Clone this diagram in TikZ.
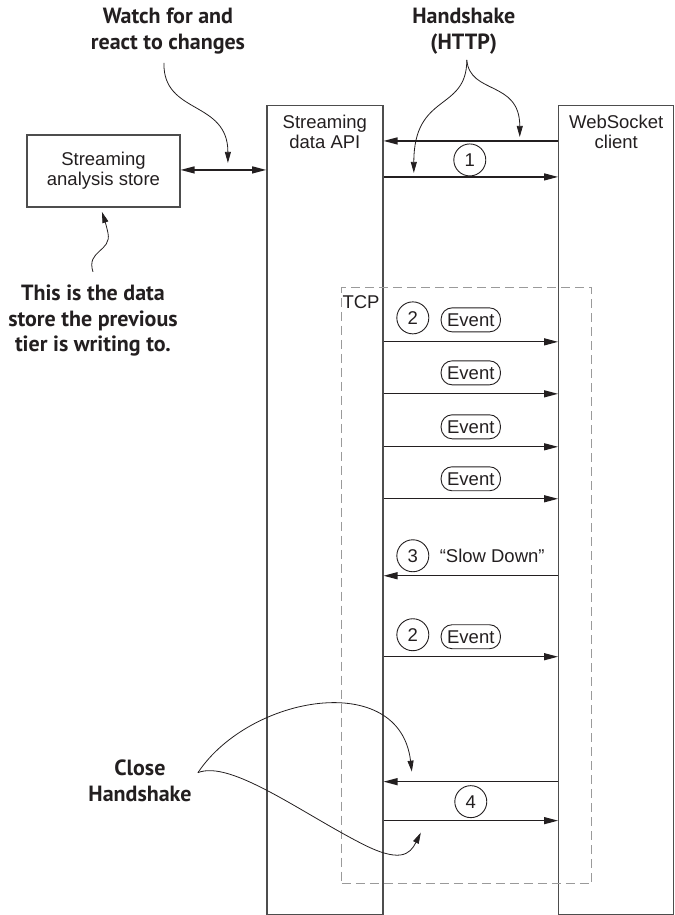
\documentclass[tikz,border=0pt]{standalone}
\usepackage{fontspec}
\setmainfont{Liberation Sans}
\newfontfamily\notefont{PT Sans}
\usetikzlibrary{arrows.meta, positioning}

\definecolor{ink}{HTML}{231F20}
\definecolor{linegray}{HTML}{4D4D4D}
\definecolor{dashgray}{HTML}{9A9A9A}

\begin{document}
\begin{tikzpicture}[
        x=1pt, y=-1pt,
        >={Triangle[length=14pt, width=7pt]},
        every node/.style={font=\fontsize{18.5}{20}\selectfont, text=ink},
        column/.style={draw=linegray, line width=1.4pt, rectangle, minimum width=116pt, minimum height=809pt, anchor=north, inner sep=0pt},
        box/.style={draw=linegray, line width=1.3pt, rectangle, minimum width=153pt, minimum height=72pt, align=center},
        lbl/.style={align=center},
        num/.style={draw=ink, circle, line width=0.9pt, minimum size=32pt, inner sep=0pt},
        evt/.style={draw=ink, rectangle, rounded corners=11pt, line width=0.9pt, minimum height=24pt, inner xsep=6pt, inner ysep=0pt},
        tcpbox/.style={draw=dashgray, line width=1.1pt, dash pattern=on 9pt off 5pt, rectangle, minimum width=250pt, minimum height=596pt, inner sep=0pt},
        msg/.style={draw=ink, line width=1.2pt},
        note/.style={align=center, font=\notefont\bfseries\fontsize{22}{25.5}\selectfont},
        callout/.style={draw=ink, line width=0.8pt, -{Triangle[length=11pt, width=6pt]}}
    ]
        % Nodi
        \node [column] (api) at (325,105) {};
        \node [column, minimum width=115pt] (client) at (616.5,105) {};
        \node [lbl, below=7pt of api.north] (apiname) {Streaming\\data API};
        \node [lbl, below=7pt of client.north] (clientname) {WebSocket\\client};
        \node [box] (store) at (103.5,171) {Streaming\\analysis store};

        \node [tcpbox] (tcp) at (467,586) {};
        \node [lbl, inner sep=1pt, below right=7pt and 0pt of tcp.north west] (tcplabel) {TCP};

        % Etichette dei messaggi
        \node [num] (n1) at (470,160) {1};
        \node [num] (n2) at (413,318) {2};
        \node [evt] (ev1) at (471,320) {Event};
        \node [evt] (ev2) at (471,373) {Event};
        \node [evt] (ev3) at (471,427) {Event};
        \node [evt] (ev4) at (471,479) {Event};
        \node [num] (n3) at (413,556) {3};
        \node [lbl, right=7pt of n3] (slow) {“Slow Down”};
        \node [num] (n2b) at (413,635) {2};
        \node [evt] (ev5) at (471,637) {Event};
        \node [num] (n4) at (471,802) {4};

        % Messaggi
        \draw [msg, <->] (store.east |- 0,170) -- (api.west |- 0,170);
        \foreach \y in {177,342,394,447,499,657,821}
            \draw [msg, ->] (api.east |- 0,\y) -- (client.west |- 0,\y);
        \foreach \y in {141,576,782}
            \draw [msg, ->] (client.west |- 0,\y) -- (api.east |- 0,\y);

        % Note
        \node [note] (watch) at (168,31) {Watch for and\\react to changes};
        \node [note] (hs) at (464,31) {Handshake\\(HTTP)};
        \node [note] (prev) at (93,321) {This is the data\\store the previous\\tier is writing to.};
        \node [note] (close) at (140,781) {Close\\Handshake};

        \coordinate (watchtail) at (164,63);
        \coordinate (watchtip) at (228,163);
        \coordinate (hstail) at (467,60);
        \coordinate (hsleft) at (414,173);
        \coordinate (hsright) at (520,137);
        \coordinate (prevtail) at (93,272);
        \coordinate (prevtip) at (102,212);
        \coordinate (closetail) at (198,773);
        \coordinate (closeup) at (412,772);
        \coordinate (closedown) at (421,833);

        \draw [callout] (watchtail) .. controls (163,115) and (228,100) .. (watchtip);
        \draw [callout] (hstail) .. controls (467,112) and (414,92) .. (hsleft);
        \draw [callout] (hstail) .. controls (470,95) and (520,80) .. (hsright);
        \draw [callout] (prevtail) .. controls (86,250) and (112,252) .. (108,233) .. controls (106,224) and (104,218) .. (prevtip);
        \draw [callout] (closetail) .. controls (250,695) and (400,670) .. (closeup);
        \draw [callout] (closetail) .. controls (230,760) and (300,812) .. (360,843) .. controls (400,864) and (410,855) .. (closedown);

        \useasboundingbox (0,0) rectangle (675,915);
    \end{tikzpicture}
\end{document}
